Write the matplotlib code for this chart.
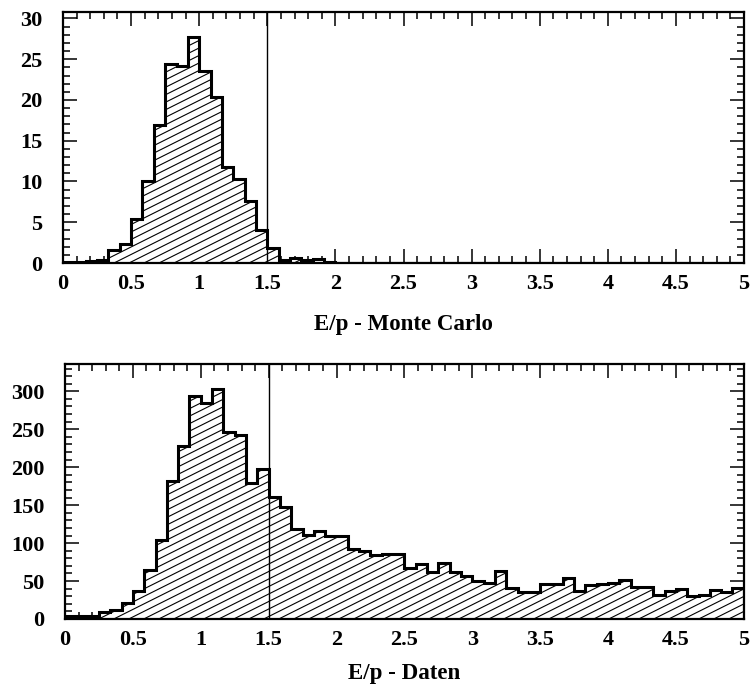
import numpy as np
import matplotlib.pyplot as plt
from matplotlib.collections import LineCollection
from matplotlib.ticker import MultipleLocator

# 60 bins from 0 to 5 (width 1/12)
edges = np.linspace(0, 5, 61)

mc_counts = [0.1, 0.1, 0.25, 0.4, 1.6, 2.3, 5.4, 10.0, 16.9, 24.4,
             24.2, 27.7, 23.6, 20.4, 11.8, 10.3, 7.6, 4.1, 1.8, 0.4,
             0.6, 0.4, 0.5, 0.1] + [0] * 36

data_counts = [4, 4, 4, 9, 12, 21, 37, 65, 104, 182,
               228, 294, 285, 303, 246, 242, 179, 198, 161, 148,
               119, 111, 116, 110, 110, 92, 89, 84, 85, 86,
               67, 72, 62, 74, 62, 56, 50, 47, 63, 41,
               36, 36, 46, 46, 54, 37, 45, 46, 47, 52,
               42, 42, 31, 37, 40, 30, 32, 38, 36, 41]

xtick_labels = ['0', '0.5', '1', '1.5', '2', '2.5', '3', '3.5', '4', '4.5', '5']

cut = 1.5
serif = ['Liberation Serif', 'DejaVu Serif']


def hatch_fill(ax, patch, spacing=7.5, slope=0.5):
    # slanted hatch lines clipped to the histogram outline
    fig = ax.figure
    pos = ax.get_position()
    w = pos.width * fig.get_figwidth() * fig.dpi
    h = pos.height * fig.get_figheight() * fig.dpi
    segs = []
    for c in np.arange(-slope * w, h, spacing):
        segs.append([(0, c / h), (1, (c + slope * w) / h)])
    lc = LineCollection(segs, transform=ax.transAxes, colors='k', linewidths=0.8)
    lc.set_clip_path(patch)
    ax.add_collection(lc, autolim=False)


def panel(ax, counts, ymax, ymajor, yminor, label, labelpad):
    patch = ax.stairs(counts, edges, fill=True, facecolor='white',
                      edgecolor='k', linewidth=2.0, zorder=2)
    ax.stairs(counts, edges, fill=False, color='k', linewidth=2.2, zorder=4)
    hatch_fill(ax, patch)
    ax.axvline(cut, color='k', linewidth=1.0, zorder=5)
    ax.set_xlim(0, 5)
    ax.set_ylim(0, ymax)
    ax.xaxis.set_minor_locator(MultipleLocator(0.1))
    ax.yaxis.set_major_locator(MultipleLocator(ymajor))
    ax.yaxis.set_minor_locator(MultipleLocator(yminor))
    ax.set_xticks(np.arange(0, 5.01, 0.5))
    ax.set_xticklabels(xtick_labels)
    ax.tick_params(which='both', direction='in', top=True, right=True, width=1.1)
    ax.tick_params(which='major', length=10)
    ax.tick_params(which='minor', length=5)
    ax.tick_params(axis='x', which='major', pad=8)
    ax.tick_params(axis='y', which='major', pad=15)
    for t in ax.get_xticklabels() + ax.get_yticklabels():
        t.set_family(serif)
        t.set_fontweight('bold')
        t.set_fontsize(16)
    for s in ax.spines.values():
        s.set_linewidth(1.6)
    ax.set_xlabel(label, family=serif, fontweight='bold', fontsize=16.5, labelpad=labelpad)


fig = plt.figure(figsize=(7.5, 6.86), dpi=100)
ax1 = fig.add_axes([0.084, 0.6166, 0.908, 0.366])
ax2 = fig.add_axes([0.0867, 0.0977, 0.905, 0.3717])

panel(ax1, mc_counts, 30.8, 5, 1, 'E/p - Monte Carlo', 14)
panel(ax2, data_counts, 336, 50, 10, 'E/p - Daten', 9)

fig.savefig('out.png', dpi=100)
